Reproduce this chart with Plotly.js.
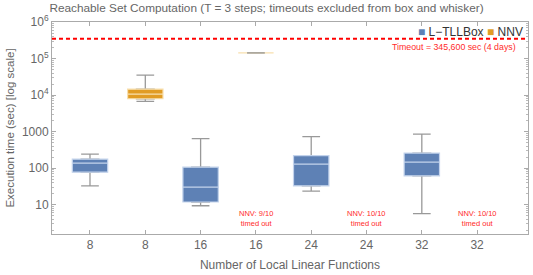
<!DOCTYPE html>
<html>
<head>
<meta charset="utf-8">
<script src="https://cdn.plot.ly/plotly-3.0.1.min.js"></script>
<style>html,body{margin:0;padding:0;background:#fff;}#chart{width:533px;height:275px;}</style>
</head>
<body>
<div id="chart"></div>
<script>
// ---- data ----
var categories = ['8', '8', '16', '16', '24', '24', '32', '32'];
var seriesNames = ['L\u2212TLLBox', 'NNV'];

// L-TLLBox boxes (category slots 0, 2, 4, 6)
var tllSlots  = [0, 2, 4, 6];
var tllLower  = [33, 9.4, 23.7, 5.7];
var tllQ1     = [78, 11.9, 33, 62];
var tllMedian = [138, 30.5, 129, 147];
var tllQ3     = [177, 107, 222, 259];
var tllUpper  = [243, 648, 735, 855];

// NNV boxes (category slots 1, 3)
var nnvSlots  = [1, 3];
var nnvLower  = [6760, 142600];
var nnvQ1     = [7940, 142600];
var nnvMedian = [10600, 142600];
var nnvQ3     = [14500, 142600];
var nnvUpper  = [35400, 142600];

// NNV timeouts (category slot, label)
var timeoutSlots  = [3, 5, 7];
var timeoutLabels = ['NNV: 9/10', 'NNV: 10/10', 'NNV: 10/10'];
var timeoutSec = 345600;

var yTickVals = [10, 100, 1000, 10000, 100000, 1000000];
var yTickText = ['10', '100', '1000', '10<sup>4</sup>', '10<sup>5</sup>', '10<sup>6</sup>'];

var colors = {tll: '#5E81B5', tllLine: '#c3d3ec', nnv: '#E19C24', nnvLine: '#f8dfae', whisker: '#999999'};
var FONT = 'Liberation Sans, Arial, sans-serif';

function whiskerTrace(slots, lo, q1, med, q3, hi) {
  return {type: 'box', x: slots, lowerfence: lo, q1: q1, median: med, q3: q3, upperfence: hi,
    width: 0.32, whiskerwidth: 1, line: {color: colors.whisker, width: 1.3},
    fillcolor: 'rgba(0,0,0,0)', showlegend: false, hoverinfo: 'skip'};
}
function fillTrace(name, slots, q1, med, q3, fill, line) {
  return {type: 'box', name: name, x: slots, lowerfence: q1, q1: q1, median: med, q3: q3, upperfence: q3,
    width: 0.64, whiskerwidth: 0, line: {color: line, width: 1.2},
    fillcolor: fill, showlegend: false, hoverinfo: 'skip'};
}

// single-valued boxes: whisker marks drawn on top
var singleIdx = nnvSlots.map(function (s, i) { return i; }).filter(function (i) { return nnvQ1[i] === nnvQ3[i]; });
function pick(arr) { return singleIdx.map(function (i) { return arr[i]; }); }

var data = [
  whiskerTrace(tllSlots, tllLower, tllQ1, tllMedian, tllQ3, tllUpper),
  whiskerTrace(nnvSlots, nnvLower, nnvQ1, nnvMedian, nnvQ3, nnvUpper),
  fillTrace(seriesNames[0], tllSlots, tllQ1, tllMedian, tllQ3, colors.tll, colors.tllLine),
  fillTrace(seriesNames[1], nnvSlots, nnvQ1, nnvMedian, nnvQ3, colors.nnv, colors.nnvLine),
  whiskerTrace(pick(nnvSlots), pick(nnvLower), pick(nnvQ1), pick(nnvMedian), pick(nnvQ3), pick(nnvUpper))
];

var annotations = timeoutSlots.map(function (s, i) {
  return {x: s, y: 0.63, xref: 'x', yref: 'y', text: timeoutLabels[i] + '<br>timed out', showarrow: false,
    font: {family: FONT, size: 7.5, color: '#ff2a2a'}, align: 'center'};
});
annotations.push({x: 0.979, xref: 'paper', y: Math.log10(timeoutSec), yref: 'y', yanchor: 'top', yshift: -1,
  xanchor: 'right', text: 'Timeout = 345,600 sec (4 days)', showarrow: false,
  font: {family: FONT, size: 8.8, color: '#ff2a2a'}});
annotations.push({x: 0.993, xref: 'paper', y: 0.953, yref: 'paper', xanchor: 'right', yanchor: 'middle',
  showarrow: false,
  text: '<span style="color:' + colors.tll + '">\u25A0</span> ' + seriesNames[0] +
        ' <span style="color:' + colors.nnv + '">\u25A0</span> ' + seriesNames[1],
  font: {family: FONT, size: 12, color: '#333'}});

var layout = {
  width: 533, height: 275,
  margin: {l: 52, r: 5, t: 22, b: 41},
  paper_bgcolor: '#fff', plot_bgcolor: '#fff',
  font: {family: FONT, color: '#666'},
  boxmode: 'overlay',
  title: {text: 'Reachable Set Computation (T = 3 steps; timeouts excluded from box and whisker)',
    font: {family: FONT, size: 11.8, color: '#666'}, x: 0.5, xanchor: 'center', y: 0.97, yanchor: 'middle'},
  xaxis: {range: [-0.687, 7.92], tickvals: categories.map(function (c, i) { return i; }), ticktext: categories,
    ticks: 'inside', ticklen: 4, tickcolor: '#aaa', showline: true, linecolor: '#aaa', linewidth: 1,
    mirror: 'ticks', showgrid: false, zeroline: false,
    tickfont: {family: FONT, size: 12, color: '#666'},
    title: {text: 'Number of Local Linear Functions', font: {family: FONT, size: 12, color: '#666'}, standoff: 9}},
  yaxis: {type: 'log', range: [0.2, 6], tickvals: yTickVals, ticktext: yTickText,
    ticks: 'inside', ticklen: 4, tickcolor: '#aaa', showline: true, linecolor: '#aaa', linewidth: 1,
    mirror: 'ticks', showgrid: false, zeroline: false,
    minor: {ticks: 'inside', ticklen: 2, tickcolor: '#bbb', dtick: 'D1', showgrid: false},
    tickfont: {family: FONT, size: 12, color: '#666'},
    title: {text: 'Execution time (sec) [log scale]', font: {family: FONT, size: 11.5, color: '#666'}, standoff: 4}},
  shapes: [{type: 'line', xref: 'paper', x0: 0, x1: 1, yref: 'y', y0: timeoutSec, y1: timeoutSec,
    line: {color: '#ff0000', width: 2, dash: '4px,3px'}}],
  annotations: annotations
};

Plotly.newPlot('chart', data, layout, {staticPlot: true, displayModeBar: false});
</script>
</body>
</html>
